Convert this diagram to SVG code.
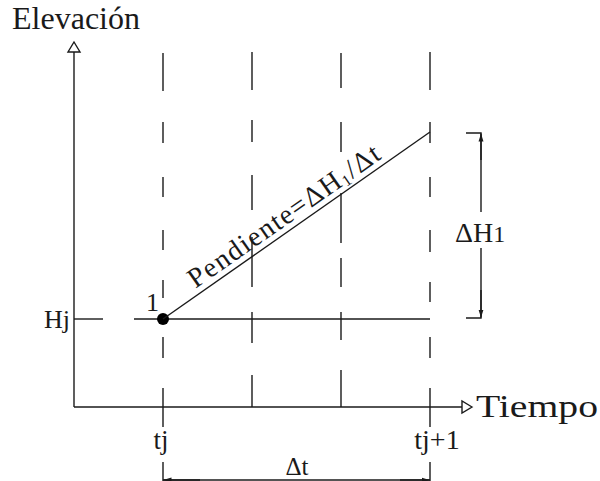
<svg xmlns="http://www.w3.org/2000/svg" width="600" height="481" viewBox="0 0 600 481">
<style>
.ln{stroke:#1a1a1a;stroke-width:1.4;fill:none}
.dash{stroke:#1a1a1a;stroke-width:1.4;fill:none}
.t{font-family:"Liberation Serif","Times New Roman",serif;fill:#1a1a1a}
</style>
<defs>
<marker id="sa" viewBox="0 0 8 6" refX="8" refY="3" markerWidth="8" markerHeight="6" orient="auto" markerUnits="userSpaceOnUse">
<path d="M0,0.5 L8,3 L0,5.5 z" fill="#1a1a1a"/>
</marker>
</defs>
<rect width="600" height="481" fill="#ffffff"/>
<g id="axes">
<line class="ln" x1="74" y1="407" x2="74" y2="52"/>
<path class="ln" d="M74,42 L68,52 L80,52 Z" fill="#ffffff"/>
<line class="ln" x1="74" y1="407" x2="462" y2="407"/>
<path class="ln" d="M472,407 L462,401 L462,413 Z" fill="#ffffff"/>
<text class="t" x="12" y="29" font-size="32" textLength="128" lengthAdjust="spacingAndGlyphs">Elevación</text>
<text class="t" x="476" y="417" font-size="32" textLength="122" lengthAdjust="spacingAndGlyphs">Tiempo</text>
</g>
<g id="grid">
<path class="dash" d="M163,53V91M163,122V143M163,177V197M163,230V250M163,280V298M163,337V358M163,388V427M163,462V481"/>
<path class="dash" d="M252,52V90M252,120V142M252,175V210M252,237V287M252,312V343M252,375V407"/>
<path class="dash" d="M341,53V88M341,122V152M341,193V243M341,258V287M341,312V340M341,370V407"/>
<path class="dash" d="M430,52V90M430,122V143M430,177V197M430,230V252M430,282V302M430,337V358M430,388V427M430,462V481"/>
</g>
<g id="hj">
<line class="ln" x1="74" y1="319" x2="103" y2="319"/>
<line class="ln" x1="134" y1="319" x2="430" y2="319"/>
<text class="t" x="44" y="328" font-size="26">Hj</text>
</g>
<g id="point1">
<circle cx="163" cy="319" r="6" fill="#000"/>
<text class="t" x="146" y="311" font-size="26">1</text>
</g>
<g id="connectors">
<line class="ln" x1="163" y1="319" x2="430" y2="132"/>
</g>
<g id="slope-label">
<text class="t" font-size="28" transform="translate(163,319) rotate(-35)" x="44" y="-6" textLength="228" lengthAdjust="spacing">Pendiente=ΔH<tspan font-size="16" dy="3">1</tspan><tspan dy="-3">/Δt</tspan></text>
</g>
<g id="dh-bracket">
<path class="ln" d="M466,133H481V212"/>
<line class="ln" x1="481" y1="160" x2="481" y2="133.5" marker-end="url(#sa)"/>
<path class="ln" d="M466,318H481V248"/>
<line class="ln" x1="481" y1="290" x2="481" y2="317.5" marker-end="url(#sa)"/>
<text class="t" x="455" y="242" font-size="28">ΔH<tspan font-size="24">1</tspan></text>
</g>
<g id="dt-bracket">
<line class="ln" x1="163" y1="480" x2="430" y2="480"/>
<line class="ln" x1="200" y1="480" x2="163.5" y2="480" marker-end="url(#sa)"/>
<line class="ln" x1="400" y1="480" x2="429.5" y2="480" marker-end="url(#sa)"/>
<text class="t" x="297" y="475" font-size="25" text-anchor="middle">Δt</text>
</g>
<g id="ticks">
<text class="t" x="161" y="449" font-size="27" text-anchor="middle">tj</text>
<text class="t" x="437" y="449" font-size="28" text-anchor="middle">tj+1</text>
</g>
</svg>
